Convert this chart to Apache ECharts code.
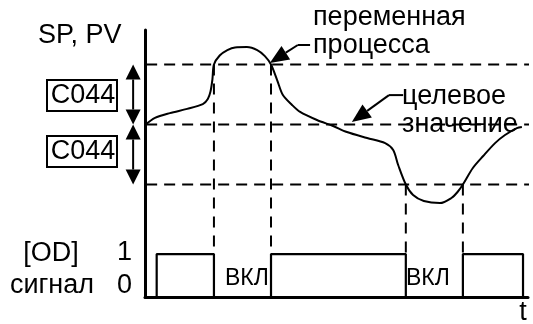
<!DOCTYPE html>
<html>
<head>
<meta charset="utf-8">
<script src="https://cdn.jsdelivr.net/npm/echarts@6/dist/echarts.min.js"></script>
<style>
html,body{margin:0;padding:0;background:#fff;}
#chart{width:533px;height:324px;}
</style>
</head>
<body>
<div id="chart"></div>
<script>
// ---- data (time units 0..100, value units 0..89) ----
const pvT = [0, 2.6, 6.5, 11.0, 15.1, 16.4, 17.1, 17.6, 18.0, 19.5, 21.5, 23.5, 26.6, 29.3, 31.3, 32.9, 34.5, 36.0, 38.4, 40.5, 44.9, 49.1, 52.7, 58.0, 62.7, 64.8, 66.1, 68.1, 70.0, 72.8, 77.0, 80.0, 81.6, 83.0, 85.6, 88.3, 91.4, 94.0, 97.1, 98.4];
const pvY = [57.3, 59.7, 61.3, 62.7, 64.3, 66.0, 68.5, 72.5, 77.5, 80.5, 82.3, 83.2, 83.3, 82.3, 80.3, 77.5, 72.3, 67.3, 64.0, 61.7, 59.0, 57.0, 55.0, 53.0, 51.3, 49.0, 44.0, 37.5, 34.0, 32.0, 31.3, 33.0, 35.0, 37.5, 43.0, 47.0, 51.3, 54.0, 56.3, 56.7];
const spLevel = 57.5;
const c044 = 20;
const signalHigh = 14.3;
const signalRise = [3.05, 32.9, 83.0];
const signalFall = [18.0, 68.1, 98.7];
const crossT = [18.0, 32.9, 68.1, 83.0];
const crossLevel = [77.5, 77.5, 37.5, 37.5];
const dashFromT = -4.4, dashToT = 100.5;
const bandArrowT = -3.1;
// leader lines: [x0,y0,x1,y1,headAtEnd]
const leaders = [
  [43.1, 84.0, 39.9, 84.0, 0],
  [39.9, 84.0, 32.6, 78.0, 1],
  [67.4, 67.3, 63.7, 67.3, 0],
  [63.7, 67.3, 54.0, 58.3, 1]
];

const FONT = 'Liberation Sans, Arial, Helvetica, sans-serif';

// build series data
const pvData = pvT.map((t, i) => [t, pvY[i]]);
const sigData = [[0, 0]];
signalRise.forEach((r, i) => {
  sigData.push([r, 0], [r, signalHigh], [signalFall[i], signalHigh], [signalFall[i], 0]);
});
const hLevels = [spLevel + c044, spLevel, spLevel - c044];

const dashStyle = {color: '#000', width: 2, type: [11, 7]};
const series = [];
hLevels.forEach(lv => {
  series.push({type: 'line', data: [[dashFromT, lv], [dashToT, lv]], showSymbol: false, clip: false,
    lineStyle: dashStyle, silent: true, z: 1});
});
crossT.forEach((t, i) => {
  series.push({type: 'line', data: [[t, crossLevel[i]], [t, signalHigh]], showSymbol: false, clip: false,
    lineStyle: {color: '#000', width: 2, type: [11, 8]}, silent: true, z: 1});
});
series.push({type: 'line', data: pvData, smooth: 0.3, showSymbol: false, clip: false,
  lineStyle: {color: '#000', width: 2}, silent: true, z: 3});
series.push({type: 'line', data: sigData, showSymbol: false, clip: false,
  lineStyle: {color: '#000', width: 2.2}, silent: true, z: 3});

// arrows: [x0,y0,x1,y1,headStart,headEnd,len,halfW]
const arrowData = [
  [bandArrowT, spLevel + c044, bandArrowT, spLevel, 1, 1, 15, 7.5],
  [bandArrowT, spLevel, bandArrowT, spLevel - c044, 1, 1, 15, 7.5]
].concat(leaders.map(l => [l[0], l[1], l[2], l[3], 0, l[4], 19, 8]));

function head(tip, from, len, hw) {
  const dx = tip[0] - from[0], dy = tip[1] - from[1];
  const d = Math.sqrt(dx * dx + dy * dy) || 1;
  const ux = dx / d, uy = dy / d;
  const bx = tip[0] - ux * len, by = tip[1] - uy * len;
  return {base: [bx, by], pts: [tip, [bx - uy * hw, by + ux * hw], [bx + uy * hw, by - ux * hw]]};
}
series.push({
  type: 'custom', data: arrowData, clip: false, silent: true, z: 4,
  renderItem: function (params, api) {
    let p0 = api.coord([api.value(0), api.value(1)]);
    let p1 = api.coord([api.value(2), api.value(3)]);
    const hs = api.value(4), he = api.value(5), len = api.value(6), hw = api.value(7);
    const children = [];
    let a = p0, b = p1;
    if (he) { const h = head(p1, p0, len, hw); b = h.base; children.push({type: 'polygon', shape: {points: h.pts}, style: {fill: '#000'}}); }
    if (hs) { const h = head(p0, p1, len, hw); a = h.base; children.push({type: 'polygon', shape: {points: h.pts}, style: {fill: '#000'}}); }
    children.push({type: 'line', shape: {x1: a[0], y1: a[1], x2: b[0], y2: b[1]}, style: {stroke: '#000', lineWidth: 2}});
    return {type: 'group', children: children};
  }
});

function txt(text, x, y, size, align, extra) {
  return Object.assign({type: 'text', x: x, y: y, silent: true, z: 10,
    style: {text: text, font: size + 'px ' + FONT, fill: '#000', align: align || 'left', verticalAlign: 'middle'}}, extra || {});
}
const graphics = [
  txt('SP, PV', 38, 36, 27),
  {type: 'rect', shape: {x: 47, y: 80, width: 70, height: 31}, style: {fill: '#fff', stroke: '#000', lineWidth: 2}, silent: true},
  {type: 'rect', shape: {x: 47, y: 136, width: 70, height: 31}, style: {fill: '#fff', stroke: '#000', lineWidth: 2}, silent: true},
  txt('C044', 83, 96, 27, 'center'),
  txt('C044', 83, 152, 27, 'center'),
  txt('переменная', 313, 18, 27),
  txt('процесса', 313, 46, 27),
  txt('целевое', 402, 97, 27),
  txt('значение', 402, 125, 27),
  txt('[OD]', 51, 254, 27, 'center'),
  txt('сигнал', 52, 286, 27, 'center'),
  txt('1', 132, 253, 27, 'right'),
  txt('0', 132, 286, 27, 'right'),
  txt('ВКЛ', 225, 279, 23),
  txt('ВКЛ', 406, 279, 23),
  txt('t', 523, 313, 27, 'center')
];

const chart = echarts.init(document.getElementById('chart'), null, {renderer: 'canvas'});
chart.setOption({
  animation: false,
  backgroundColor: '#fff',
  grid: {left: 145, right: 5, top: 30, bottom: 27},
  xAxis: {type: 'value', min: 0, max: 100, axisLine: {lineStyle: {color: '#000', width: 3}},
    axisTick: {show: false}, axisLabel: {show: false}, splitLine: {show: false}},
  yAxis: {type: 'value', min: 0, max: 89, axisLine: {show: true, lineStyle: {color: '#000', width: 3}},
    axisTick: {show: false}, axisLabel: {show: false}, splitLine: {show: false}},
  series: series,
  graphic: graphics
});
</script>
</body>
</html>
